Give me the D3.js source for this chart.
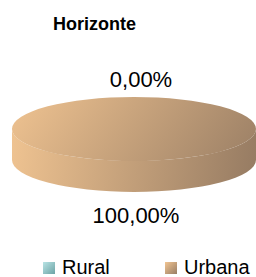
<!DOCTYPE html>
<html>
<head>
<meta charset="utf-8">
<script src="https://cdn.jsdelivr.net/npm/d3@7"></script>
<style>
body { margin: 0; background: #fff; }
text { font-family: "Liberation Sans", Arial, sans-serif; fill: #000; }
</style>
</head>
<body>
<div id="chart"></div>
<script>
var categories = ['Rural', 'Urbana'];
var values = [0, 100];
var labels = ['0,00%', '100,00%'];

var width = 256, height = 277;
var cx = 134, cy = 129, rx = 122, ry = 32, depth = 31;

var svg = d3.select('#chart').append('svg')
  .attr('width', width).attr('height', height);

var defs = svg.append('defs');

// slice gradients (light top-left to dark bottom-right)
var grads = [['#b9e4e5', '#6ca3a5'], ['#f2c592', '#987d64']];
grads.forEach(function(g, i) {
  var lg = defs.append('linearGradient').attr('id', 'g' + i)
    .attr('gradientUnits', 'userSpaceOnUse')
    .attr('x1', cx - rx * 0.8).attr('y1', cy - ry * 2.5)
    .attr('x2', cx + rx * 0.9).attr('y2', cy + ry * 2);
  lg.append('stop').attr('offset', '0%').attr('stop-color', g[0]);
  lg.append('stop').attr('offset', '100%').attr('stop-color', g[1]);
});
// legend swatch gradients
grads.forEach(function(g, i) {
  var lg = defs.append('linearGradient').attr('id', 'lg' + i)
    .attr('x1', '0').attr('y1', '0').attr('x2', '1').attr('y2', '1');
  lg.append('stop').attr('offset', '0%').attr('stop-color', g[0]);
  lg.append('stop').attr('offset', '100%').attr('stop-color', g[1]);
});
var sideGrad = defs.append('linearGradient').attr('id', 'side')
  .attr('gradientUnits', 'userSpaceOnUse')
  .attr('x1', cx - rx).attr('y1', cy).attr('x2', cx + rx).attr('y2', cy + depth);
sideGrad.append('stop').attr('offset', '0%').attr('stop-color', '#efc391');
sideGrad.append('stop').attr('offset', '100%').attr('stop-color', '#977c63');

var color = d3.scaleOrdinal().domain(categories).range(['url(#g0)', 'url(#g1)']);
var swatch = d3.scaleOrdinal().domain(categories).range(['url(#lg0)', 'url(#lg1)']);

var pie = d3.pie().sort(null).value(function(d) { return d; });
var slices = pie(values);

function pt(a) {
  return [cx + rx * Math.sin(a), cy - ry * Math.cos(a)];
}

function topPath(d) {
  if (d.endAngle - d.startAngle >= 2 * Math.PI - 1e-6) {
    return 'M' + (cx - rx) + ',' + cy + ' A' + rx + ',' + ry + ' 0 1 1 ' + (cx + rx) + ',' + cy +
      ' A' + rx + ',' + ry + ' 0 1 1 ' + (cx - rx) + ',' + cy + 'Z';
  }
  var p0 = pt(d.startAngle), p1 = pt(d.endAngle);
  var large = d.endAngle - d.startAngle > Math.PI ? 1 : 0;
  return 'M' + cx + ',' + cy + ' L' + p0 + ' A' + rx + ',' + ry + ' 0 ' + large + ' 1 ' + p1 + 'Z';
}

// side wall (front half)
svg.append('path')
  .attr('d', 'M' + (cx - rx) + ',' + cy + ' A' + rx + ',' + ry + ' 0 0 0 ' + (cx + rx) + ',' + cy +
    ' L' + (cx + rx) + ',' + (cy + depth) + ' A' + rx + ',' + ry + ' 0 0 1 ' + (cx - rx) + ',' + (cy + depth) + 'Z')
  .attr('fill', 'url(#side)');

svg.selectAll('.top').data(slices).enter().append('path')
  .attr('class', 'top')
  .attr('d', function(d) { return d.value > 0 ? topPath(d) : null; })
  .attr('fill', function(d, i) { return color(categories[i]); });

// title
svg.append('text').attr('x', 53).attr('y', 30)
  .style('font-size', '18px').style('font-weight', 'bold').text('Horizonte');

// data labels
var labelPos = [[141, 87], [136, 223]];
svg.selectAll('.lbl').data(labels).enter().append('text')
  .attr('class', 'lbl')
  .attr('x', function(d, i) { return labelPos[i][0]; })
  .attr('y', function(d, i) { return labelPos[i][1]; })
  .attr('text-anchor', 'middle')
  .style('font-size', '22px')
  .text(function(d) { return d; });

// legend
var legendX = d3.scalePoint().domain(categories).range([43, 165]);
var lg = svg.selectAll('.leg').data(categories).enter().append('g')
  .attr('class', 'leg')
  .attr('transform', function(d) { return 'translate(' + legendX(d) + ',262)'; });
lg.append('rect').attr('width', 12).attr('height', 12)
  .attr('fill', function(d) { return swatch(d); });
lg.append('text').attr('x', 19).attr('y', 12).style('font-size', '20px')
  .text(function(d) { return d; });
</script>
</body>
</html>
